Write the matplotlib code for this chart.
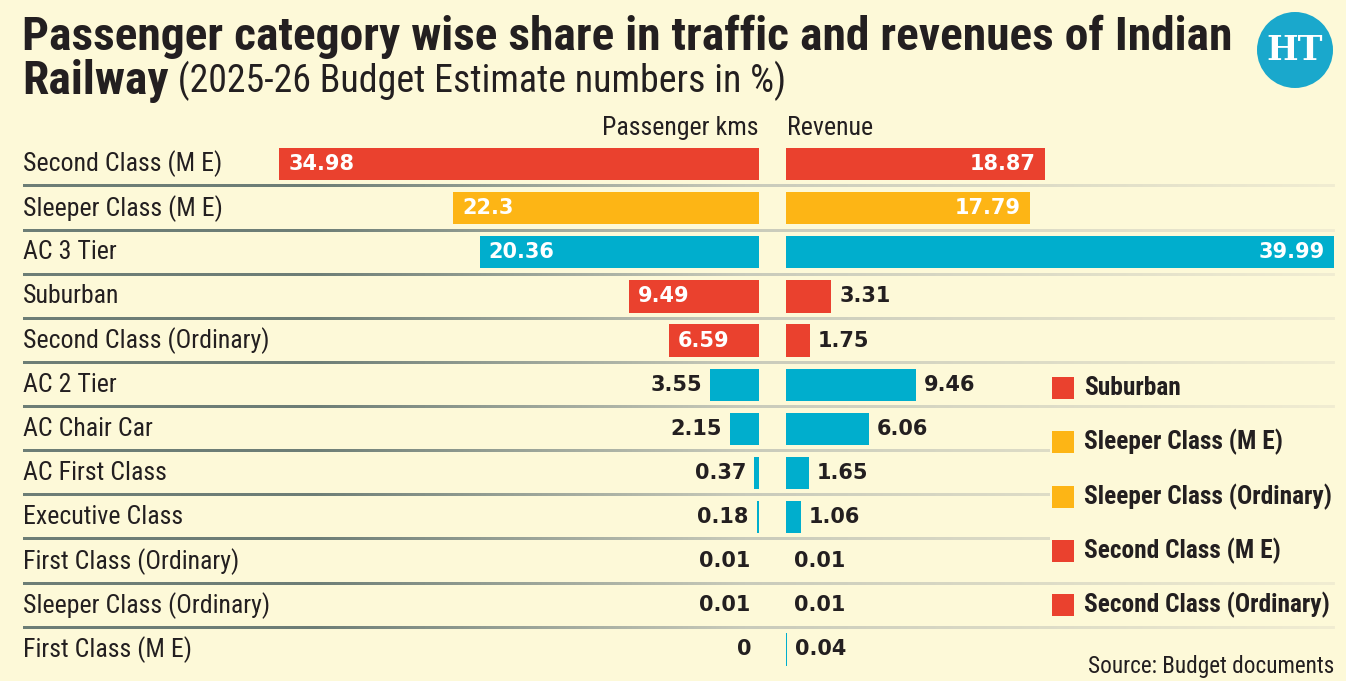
import matplotlib
matplotlib.use("Agg")
import matplotlib.pyplot as plt
from matplotlib.patches import Rectangle, Circle
from matplotlib import font_manager
import matplotlib.transforms as mtransforms
from collections import defaultdict
import numpy as np

# ---------------- data ----------------
categories = ["Second Class (M E)", "Sleeper Class (M E)", "AC 3 Tier", "Suburban",
              "Second Class (Ordinary)", "AC 2 Tier", "AC Chair Car", "AC First Class",
              "Executive Class", "First Class (Ordinary)", "Sleeper Class (Ordinary)",
              "First Class (M E)"]
passenger_kms = [34.98, 22.3, 20.36, 9.49, 6.59, 3.55, 2.15, 0.37, 0.18, 0.01, 0.01, 0]
revenue = [18.87, 17.79, 39.99, 3.31, 1.75, 9.46, 6.06, 1.65, 1.06, 0.01, 0.01, 0.04]
pkm_labels = ["34.98", "22.3", "20.36", "9.49", "6.59", "3.55", "2.15", "0.37", "0.18",
              "0.01", "0.01", "0"]
rev_labels = ["18.87", "17.79", "39.99", "3.31", "1.75", "9.46", "6.06", "1.65", "1.06",
              "0.01", "0.01", "0.04"]
groups = ["red", "orange", "blue", "red", "red", "blue", "blue", "blue", "blue",
          "blue", "orange", "blue"]
legend_items = ["Suburban", "Sleeper Class (M E)", "Sleeper Class (Ordinary)",
                "Second Class (M E)", "Second Class (Ordinary)"]
legend_groups = ["red", "orange", "orange", "red", "red"]

title_line1 = "Passenger category wise share in traffic and revenues of Indian"
title_bold2 = "Railway"
title_rest2 = " (2025-26 Budget Estimate numbers in %)"
header_left = "Passenger kms"
header_right = "Revenue"
source = "Source: Budget documents"

# ---------------- style ----------------
BG = "#fdf9d8"
COLORS = {"red": "#ea412e", "orange": "#fdb515", "blue": "#00aecd"}
TXT = "#231f20"


def _w(v):
    if isinstance(v, str):
        return font_manager.weight_dict.get(v, 400)
    return int(v)


fams = defaultdict(set)
for f in font_manager.fontManager.ttflist:
    if "Narrow" in f.name or "Condensed" in f.name:
        fams[f.name].add(_w(f.weight))
pref = ["Liberation Sans Narrow", "Roboto Condensed", "Open Sans Condensed",
        "DejaVu Sans Condensed", "Archivo Narrow", "PT Sans Narrow"]
names = sorted(fams, key=lambda s: (pref.index(s) if s in pref else 99, s))
reg = [s for s in names if min(fams[s]) <= 450]
bold = [s for s in names if max(fams[s]) >= 600]
both = [s for s in reg if s in bold]
if both:
    F_REG, F_BOLD = both[0], both[0]
else:
    F_REG = reg[0] if reg else "DejaVu Sans"
    F_BOLD = bold[0] if bold else "DejaVu Sans"
NARROW = [F_REG, "DejaVu Sans"]
NARROW_B = [F_BOLD, "DejaVu Sans"]
VALFONT = ["DejaVu Sans"]

W, H = 1346, 681
fig = plt.figure(figsize=(W / 100, H / 100), dpi=100, facecolor=BG)
renderer = fig.canvas.get_renderer()


def fx(px):
    return px / W


def fy(py):
    return 1 - py / H


def width_of(t):
    return t.get_window_extent(renderer=renderer).width


def fit(t, target):
    fs = t.get_fontsize()
    t.set_fontsize(fs * target / width_of(t))
    return t.get_fontsize()


PX_PER_UNIT = 13.71
ROW_TOP, ROW_BOT = 142, 671.5
n = len(categories)

bg = fig.add_axes([0, 0, 1, 1])
bg.set_xlim(0, W)
bg.set_ylim(H, 0)
bg.axis("off")

# separator lines (gradient dark -> light), on the row scale
sep = fig.add_axes([fx(23), fy(ROW_BOT), fx(1335 - 23), (ROW_BOT - ROW_TOP) / H])
sep.axis("off")
sep.patch.set_alpha(0)
dark = np.array(matplotlib.colors.to_rgb("#6d7e76"))
mid = np.array(matplotlib.colors.to_rgb("#c9cbbb"))
light = np.array(matplotlib.colors.to_rgb("#f1edd2"))
tt = np.linspace(0, 1, 600)
grad = np.zeros((1, tt.size, 3))
for j, t in enumerate(tt):
    if t < 0.22:
        c = dark
    elif t < 0.55:
        u = (t - 0.22) / 0.33
        c = dark * (1 - u) + mid * u
    else:
        u = (t - 0.55) / 0.45
        c = mid * (1 - u) + light * u
    grad[0, j] = c
lw_units = 2.6 / ((ROW_BOT - ROW_TOP) / n)
for i in range(n - 1):
    yv = i + 0.5
    sep.imshow(grad, extent=(0, 1, yv + lw_units / 2, yv - lw_units / 2),
               aspect="auto", interpolation="bilinear")
sep.set_xlim(0, 1)
sep.set_ylim(n - 0.5, -0.5)

lx0, lx1 = 250, 759
axl = fig.add_axes([fx(lx0), fy(ROW_BOT), fx(lx1 - lx0), (ROW_BOT - ROW_TOP) / H])
axl.set_xlim((lx1 - lx0) / PX_PER_UNIT, 0)
axl.set_ylim(n - 0.5, -0.5)
axl.axis("off")
axl.patch.set_alpha(0)

rx0, rx1 = 786, 1340
axr = fig.add_axes([fx(rx0), fy(ROW_BOT), fx(rx1 - rx0), (ROW_BOT - ROW_TOP) / H])
axr.set_xlim(0, (rx1 - rx0) / PX_PER_UNIT)
axr.set_ylim(n - 0.5, -0.5)
axr.axis("off")
axr.patch.set_alpha(0)

ypos = np.arange(n)
bar_colors = [COLORS[g] for g in groups]
axl.barh(ypos, passenger_kms, height=0.73, color=bar_colors, linewidth=0)
axr.barh(ypos, revenue, height=0.73, color=bar_colors, linewidth=0)

VAL_FS = 15
for i in range(n):
    v = passenger_kms[i]
    if v > 5:
        tr = mtransforms.offset_copy(axl.transData, fig=fig, x=9, y=0, units="dots")
        axl.text(v, i, pkm_labels[i], transform=tr, ha="left", va="center",
                 fontsize=VAL_FS, fontweight="bold", color="white", family=VALFONT)
    else:
        tr = mtransforms.offset_copy(axl.transData, fig=fig, x=-8, y=0, units="dots")
        axl.text(v, i, pkm_labels[i], transform=tr, ha="right", va="center",
                 fontsize=VAL_FS, fontweight="bold", color=TXT, family=VALFONT)
    v = revenue[i]
    if v > 10:
        tr = mtransforms.offset_copy(axr.transData, fig=fig, x=-9, y=0, units="dots")
        axr.text(v, i, rev_labels[i], transform=tr, ha="right", va="center",
                 fontsize=VAL_FS, fontweight="bold", color="white", family=VALFONT)
    else:
        tr = mtransforms.offset_copy(axr.transData, fig=fig, x=8, y=0, units="dots")
        axr.text(v, i, rev_labels[i], transform=tr, ha="left", va="center",
                 fontsize=VAL_FS, fontweight="bold", color=TXT, family=VALFONT)

# category labels, sized so the longest matches the reference width
lab_tr = mtransforms.blended_transform_factory(fig.transFigure, axl.transData)
cat_texts = [fig.text(fx(23), i, c, transform=lab_tr, ha="left", va="center",
                      fontsize=19, color=TXT, family=NARROW)
             for i, c in enumerate(categories)]
fs_cat = fit(cat_texts[4], 247)
for t in cat_texts:
    t.set_fontsize(fs_cat)

# headers
th = fig.text(fx(758), fy(128), header_left, ha="right", va="center", fontsize=19,
              color=TXT, family=NARROW)
fs_h = fit(th, 157)
fig.text(fx(787), fy(128), header_right, ha="left", va="center", fontsize=fs_h,
         color=TXT, family=NARROW)

# legend on its own top layer, masking the separator lines behind it
lg = fig.add_axes([0, 0, 1, 1])
lg.set_xlim(0, W)
lg.set_ylim(H, 0)
lg.axis("off")
lg.patch.set_alpha(0)
leg_texts = []
for k, (name, g) in enumerate(zip(legend_items, legend_groups)):
    yc = 388 + k * 54.3
    lg.add_patch(Rectangle((1050, yc - 14), 286, 28, color=BG, lw=0))
    lg.add_patch(Rectangle((1052, yc - 11), 22, 22, color=COLORS[g], lw=0))
    leg_texts.append(lg.text(1084, yc, name, ha="left", va="center", fontsize=18,
                             fontweight="bold", color=TXT, family=NARROW_B))
fs_leg = fit(leg_texts[2], 249)
for t in leg_texts:
    t.set_fontsize(fs_leg)

# source
ts = fig.text(fx(1334), fy(666), source, ha="right", va="center", fontsize=17,
              color=TXT, family=NARROW)
fit(ts, 246)

# title
t1 = fig.text(fx(22), fy(37), title_line1, ha="left", va="center", fontsize=30,
              fontweight="bold", color=TXT, family=NARROW_B)
fs_t = fit(t1, 1211)
t2 = fig.text(fx(22), fy(81), title_bold2, ha="left", va="center", fontsize=fs_t,
              fontweight="bold", color=TXT, family=NARROW_B)
bb = t2.get_window_extent(renderer=renderer)
t3 = fig.text(bb.x1 / W, fy(81), title_rest2, ha="left", va="center", fontsize=fs_t,
              color=TXT, family=NARROW)
fit(t3, 785 - bb.x1)

# HT logo
bg.add_patch(Circle((1295, 50), 38, color="#1aa8cc", lw=0))
bg.text(1295, 51, "HT", ha="center", va="center", fontsize=24, fontweight="bold",
        color="white", family=["DejaVu Serif"])

fig.savefig("out.png", dpi=100, facecolor=BG)
